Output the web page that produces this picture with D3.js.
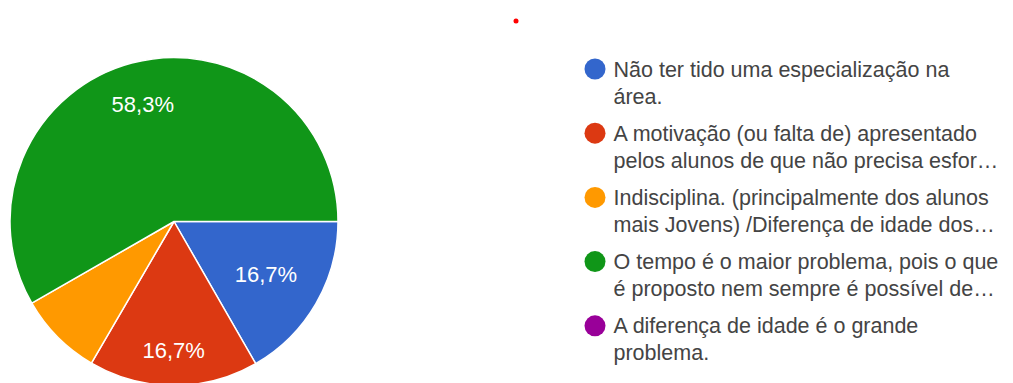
<!DOCTYPE html>
<html>
<head>
<meta charset="utf-8">
<script src="https://cdn.jsdelivr.net/npm/d3@7"></script>
<style>
  html, body { margin: 0; padding: 0; background: #fff; }
  svg { display: block; font-family: Arial, "Liberation Sans", sans-serif; }
</style>
</head>
<body>
<svg id="chart" width="1013" height="383"></svg>
<script>
// Answer categories (legend lines, already wrapped/truncated as displayed)
const categories = [
  ["Não ter tido uma especialização na", "área."],
  ["A motivação (ou falta de) apresentado", "pelos alunos de que não precisa esfor…"],
  ["Indisciplina. (principalmente dos alunos", "mais Jovens) /Diferença de idade dos…"],
  ["O tempo é o maior problema, pois o que", "é proposto nem sempre é possível de…"],
  ["A diferença de idade é o grande", "problema."]
];
// Share of responses per category (%)
const values = [16.7, 16.7, 8.3, 58.3, 0];
const colors = ["#3366cc", "#dc3912", "#ff9900", "#109618", "#990099"];

const svg = d3.select("#chart");

const cx = 174, cy = 221.5, radius = 164;

// Slices start at 3 o'clock and run clockwise
const pie = d3.pie()
  .sort(null)
  .value(d => d.value)
  .startAngle(Math.PI / 2)
  .endAngle(Math.PI / 2 + 2 * Math.PI);

const data = values.map((v, i) => ({ value: v, color: colors[i], label: categories[i] }));
const arcs = pie(data);

const arc = d3.arc().innerRadius(0).outerRadius(radius);

const g = svg.append("g").attr("transform", `translate(${cx},${cy})`);

g.selectAll("path.slice")
  .data(arcs.filter(a => a.data.value > 0))
  .join("path")
  .attr("class", "slice")
  .attr("d", arc)
  .attr("fill", d => d.data.color)
  .attr("stroke", "#fff")
  .attr("stroke-width", 1.5)
  .attr("stroke-linejoin", "round");

const fmt = v => d3.format(".1f")(v).replace(".", ",") + "%";

// Percentage labels: the far corner of each label box sits at a fixed
// distance from the centre, along the slice's mid-angle.
const outerReach = radius * 0.84;
const labels = g.selectAll("text.pct")
  .data(arcs.filter(a => a.data.value >= 10))
  .join("text")
  .attr("class", "pct")
  .attr("text-anchor", "middle")
  .attr("dy", "0.35em")
  .attr("fill", "#fff")
  .attr("font-size", 22)
  .text(d => fmt(d.data.value));

labels.each(function(d) {
  const bb = this.getBBox();
  const hw = bb.width / 2, hh = bb.height * 0.36;
  const mid = (d.startAngle + d.endAngle) / 2;
  const ux = Math.sin(mid), uy = -Math.cos(mid);
  const dist = outerReach - (hw * Math.abs(ux) + hh * Math.abs(uy));
  d3.select(this).attr("transform", `translate(${ux * dist},${uy * dist})`);
});

// Legend
const legend = svg.append("g").attr("transform", "translate(595,69)");
const item = legend.selectAll("g.item")
  .data(data)
  .join("g")
  .attr("class", "item")
  .attr("transform", (d, i) => `translate(0,${i * 64.2})`);

item.append("circle")
  .attr("r", 10.5)
  .attr("fill", d => d.color);

item.append("text")
  .attr("y", 7.5)
  .attr("fill", "#444")
  .attr("font-size", 21.5)
  .selectAll("tspan")
  .data(d => d.label)
  .join("tspan")
  .attr("x", 18.5)
  .attr("dy", (d, i) => i === 0 ? 0 : 27)
  .text(d => d);

// Small red marker at top
svg.append("circle").attr("cx", 516).attr("cy", 21).attr("r", 2.5).attr("fill", "#f00");
</script>
</body>
</html>
